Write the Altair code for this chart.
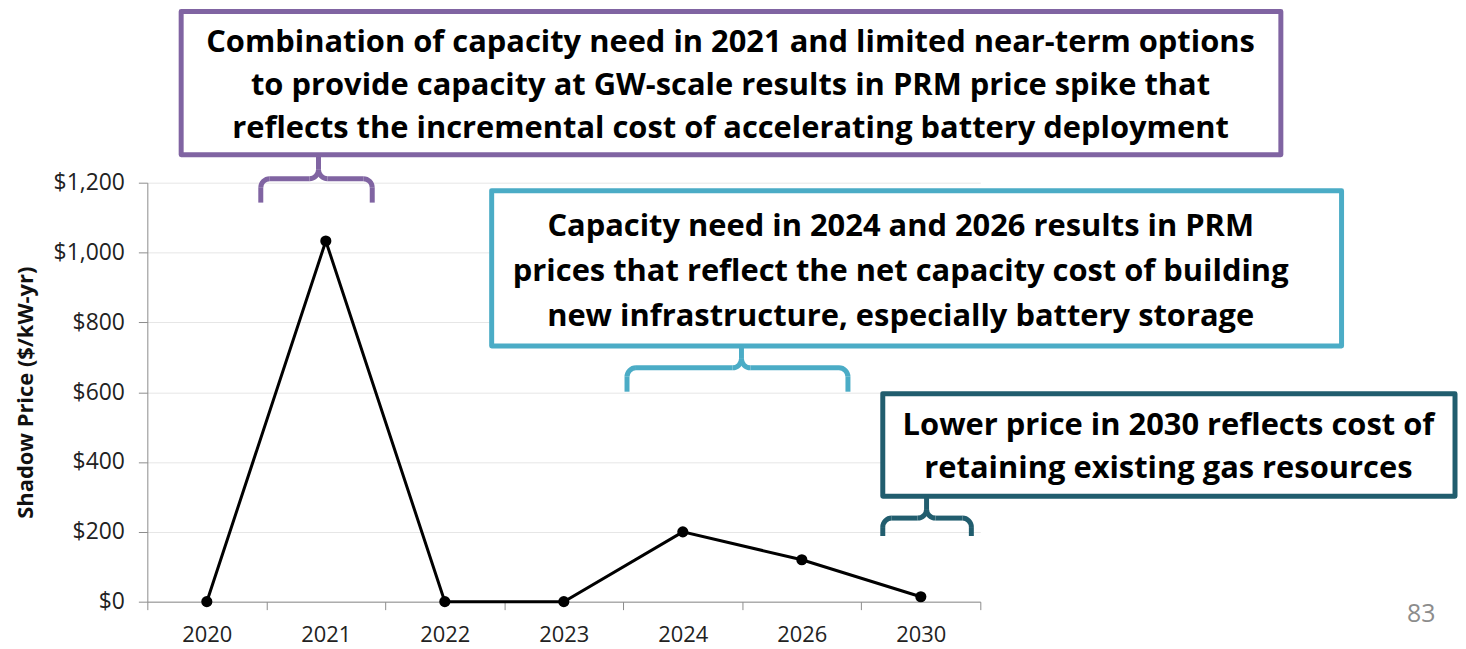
import altair as alt
import pandas as pd

# ---- data ----
years = ["2020", "2021", "2022", "2023", "2024", "2026", "2030"]
prices = [0, 1033, 0, 0, 200, 120, 14]
y_ticks = [0, 200, 400, 600, 800, 1000, 1200]

purple_lines = [
    "Combination of capacity need in 2021 and limited near-term options",
    "to provide capacity at GW-scale results in PRM price spike that",
    "reflects the incremental cost of accelerating battery deployment",
]
teal_lines = [
    "Capacity need in 2024 and 2026 results in PRM",
    "prices that reflect the net capacity cost of building",
    "new infrastructure, especially battery storage",
]
dark_lines = [
    "Lower price in 2030 reflects cost of",
    "retaining existing gas resources",
]
page_number = "83"

# ---- styles ----
FONT = "Open Sans"
PURPLE = "#8064A2"
TEAL = "#4BACC6"
DARK = "#215D6E"
AXIS_GRAY = "#8C8C8C"

df = pd.DataFrame({"year": years, "price": prices})
one = pd.DataFrame({"k": [0]})

W, H = 837, 421

x_enc = alt.X(
    "year:N",
    sort=years,
    scale=alt.Scale(type="band", paddingInner=0, paddingOuter=0),
    axis=alt.Axis(
        title=None, labelAngle=0, tickBand="extent", grid=False,
        domainColor=AXIS_GRAY, tickColor=AXIS_GRAY, tickSize=8,
        labelFont=FONT, labelFontSize=22, labelColor="#222222", labelPadding=15,
    ),
)
y_enc = alt.Y(
    "price:Q",
    scale=alt.Scale(domain=[0, 1200], nice=False),
    axis=alt.Axis(
        title="Shadow Price ($/kW-yr)", values=y_ticks, format="$,.0f",
        grid=True, gridColor="#E6E6E6", gridWidth=1,
        domainColor=AXIS_GRAY, tickColor=AXIS_GRAY, tickSize=9,
        labelFont=FONT, labelFontSize=23, labelColor="#222222", labelPadding=14,
        titleFont=FONT, titleFontSize=22, titleFontWeight="bold",
        titleColor="#111111", titlePadding=16,
    ),
)

line = alt.Chart(df).mark_line(color="black", strokeWidth=3).encode(x=x_enc, y=y_enc)
points = alt.Chart(df).mark_point(filled=True, color="black", size=125, opacity=1).encode(
    x=alt.X("year:N", sort=years), y="price:Q"
)


def box(color, x1, x2, y1, y2):
    return alt.Chart(one).mark_rect(
        fill="white", stroke=color, strokeWidth=5, strokeJoin="round"
    ).encode(x=alt.value(x1), x2=alt.value(x2), y=alt.value(y1), y2=alt.value(y2))


def box_text(lines, cx, first_y, lh):
    return alt.Chart(one).mark_text(
        text=lines, font=FONT, fontWeight="bold", fontSize=31, lineHeight=lh,
        align="center", baseline="middle", color="black",
    ).encode(x=alt.value(cx), y=alt.value(first_y))


def bracket(color, xl, xr, xs, ytop, yh, ybot, r=9, sw=5):
    layers = []
    rule = dict(color=color, strokeWidth=sw)
    layers.append(alt.Chart(one).mark_rule(**rule).encode(
        x=alt.value(xs), y=alt.value(ytop), y2=alt.value(yh - r)))
    layers.append(alt.Chart(one).mark_rule(**rule).encode(
        x=alt.value(xl + r), x2=alt.value(xs - r), y=alt.value(yh)))
    layers.append(alt.Chart(one).mark_rule(**rule).encode(
        x=alt.value(xs + r), x2=alt.value(xr - r), y=alt.value(yh)))
    layers.append(alt.Chart(one).mark_rule(**rule).encode(
        x=alt.value(xl), y=alt.value(yh + r), y2=alt.value(ybot)))
    layers.append(alt.Chart(one).mark_rule(**rule).encode(
        x=alt.value(xr), y=alt.value(yh + r), y2=alt.value(ybot)))
    pi = 3.141592653589793
    corners = [
        (xl + r, yh + r, 1.5 * pi, 2 * pi),
        (xr - r, yh + r, 0, 0.5 * pi),
        (xs - r, yh - r, 0.5 * pi, pi),
        (xs + r, yh - r, pi, 1.5 * pi),
    ]
    for cx, cy, t1, t2 in corners:
        layers.append(alt.Chart(one).mark_arc(
            color=color, innerRadius=r - sw / 2, outerRadius=r + sw / 2,
            theta=t1, theta2=t2,
        ).encode(x=alt.value(cx), y=alt.value(cy)))
    return layers


layers = [line, points]
# purple annotation
layers.append(box(PURPLE, 34, 1139, -172, -28))
layers.append(box_text(purple_lines, 586, -140, 43))
layers += bracket(PURPLE, 114, 226, 172, -28, -4, 20)
# teal annotation
layers.append(box(TEAL, 346, 1200, 8, 164))
layers.append(box_text(teal_lines, 757, 45, 45))
layers += bracket(TEAL, 482, 704, 597, 164, 186, 210)
# dark annotation
layers.append(box(DARK, 739, 1314, 212, 315))
layers.append(box_text(dark_lines, 1026, 245, 43))
layers += bracket(DARK, 739, 828, 783, 315, 337, 355)
# page number
layers.append(alt.Chart(one).mark_text(
    text=page_number, font=FONT, fontSize=25, color="#8C8C8C",
    align="center", baseline="middle",
).encode(x=alt.value(1280), y=alt.value(433)))

chart = alt.layer(*layers).properties(
    width=W, height=H,
    autosize=alt.AutoSizeParams(type="none"),
    padding={"left": 140, "top": 174, "right": 480, "bottom": 46},
    background="white",
).configure_view(stroke=None)

chart.save("out.html", embed_options={"renderer": "svg", "actions": False})
